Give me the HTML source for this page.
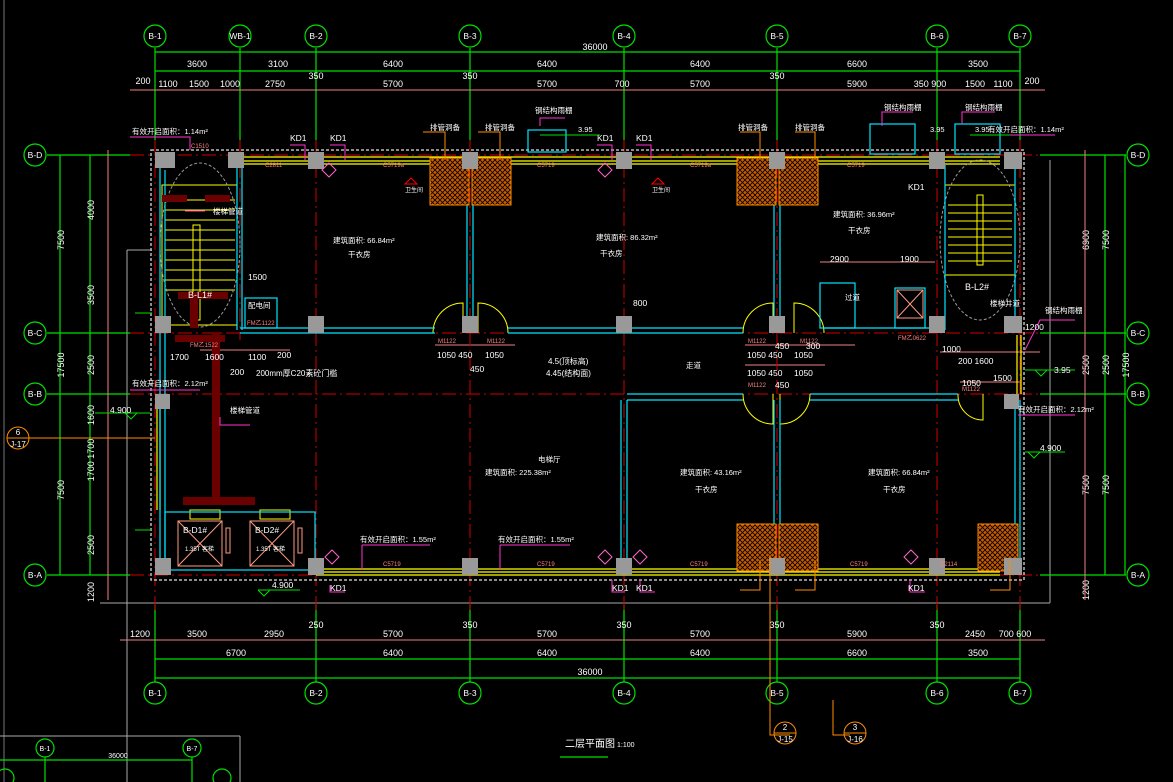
<!DOCTYPE html>
<html><head><meta charset="utf-8"><style>
html,body{margin:0;padding:0;background:#000;width:1173px;height:782px;overflow:hidden}
svg{display:block}
text{font-family:"Liberation Sans","Noto Sans CJK SC",sans-serif}
</style></head><body>
<svg width="1173" height="782" viewBox="0 0 1173 782" xmlns="http://www.w3.org/2000/svg">
<rect width="1173" height="782" fill="#000"/>
<line x1="4" y1="0" x2="4" y2="782" stroke="#777" stroke-width="1"/>
<line x1="127" y1="250" x2="127" y2="782" stroke="#aaa"/>
<line x1="127" y1="250" x2="152" y2="250" stroke="#aaa"/>
<line x1="100" y1="603" x2="1050" y2="603" stroke="#aaa"/>
<line x1="1050" y1="160" x2="1050" y2="603" stroke="#aaa"/>
<line x1="0" y1="736" x2="240" y2="736" stroke="#aaa"/><line x1="240" y1="736" x2="240" y2="782" stroke="#aaa"/>

<g stroke="#00e000" stroke-width="1.2" fill="none">
<line x1="155" y1="48" x2="155" y2="140"/><line x1="240" y1="48" x2="240" y2="140"/><line x1="316" y1="48" x2="316" y2="140"/><line x1="470" y1="48" x2="470" y2="140"/><line x1="624" y1="48" x2="624" y2="140"/><line x1="777" y1="48" x2="777" y2="140"/><line x1="937" y1="48" x2="937" y2="140"/><line x1="1020" y1="48" x2="1020" y2="140"/>
<line x1="155" y1="605" x2="155" y2="682"/><line x1="316" y1="605" x2="316" y2="682"/><line x1="470" y1="605" x2="470" y2="682"/><line x1="624" y1="605" x2="624" y2="682"/><line x1="777" y1="605" x2="777" y2="682"/><line x1="937" y1="605" x2="937" y2="682"/><line x1="1020" y1="605" x2="1020" y2="682"/>
<line x1="155" y1="52" x2="1020" y2="52"/><line x1="155" y1="71" x2="1020" y2="71"/>
<line x1="155" y1="659" x2="1020" y2="659"/><line x1="155" y1="678" x2="1020" y2="678"/>
<line x1="47" y1="155" x2="130" y2="155"/><line x1="47" y1="333" x2="130" y2="333"/><line x1="47" y1="394" x2="130" y2="394"/><line x1="47" y1="575" x2="130" y2="575"/>
<line x1="1040" y1="155" x2="1126" y2="155"/><line x1="1040" y1="333" x2="1126" y2="333"/><line x1="1040" y1="394" x2="1126" y2="394"/><line x1="1040" y1="575" x2="1126" y2="575"/>
<line x1="60" y1="155" x2="60" y2="575"/><line x1="1125" y1="155" x2="1125" y2="575"/>
<line x1="90" y1="155" x2="90" y2="575"/><line x1="1105" y1="155" x2="1105" y2="575"/>
<circle cx="155" cy="36" r="11"/><circle cx="240" cy="36" r="11"/><circle cx="316" cy="36" r="11"/><circle cx="470" cy="36" r="11"/><circle cx="624" cy="36" r="11"/><circle cx="777" cy="36" r="11"/><circle cx="937" cy="36" r="11"/><circle cx="1020" cy="36" r="11"/>
<circle cx="155" cy="693" r="11"/><circle cx="316" cy="693" r="11"/><circle cx="470" cy="693" r="11"/><circle cx="624" cy="693" r="11"/><circle cx="777" cy="693" r="11"/><circle cx="937" cy="693" r="11"/><circle cx="1020" cy="693" r="11"/>
<circle cx="35" cy="155" r="11"/><circle cx="35" cy="333" r="11"/><circle cx="35" cy="394" r="11"/><circle cx="35" cy="575" r="11"/>
<circle cx="1138" cy="155" r="11"/><circle cx="1138" cy="333" r="11"/><circle cx="1138" cy="394" r="11"/><circle cx="1138" cy="575" r="11"/>
<circle cx="45" cy="748" r="9"/><circle cx="192" cy="748" r="9"/><circle cx="222" cy="778" r="9"/><circle cx="5" cy="778" r="9"/>
<line x1="0" y1="760" x2="192" y2="760"/><line x1="192" y1="757" x2="192" y2="782"/><line x1="45" y1="757" x2="45" y2="782"/>
<line x1="560" y1="757" x2="608" y2="757"/>
</g>
<g fill="#fff" font-size="8.5" text-anchor="middle">
<text x="155" y="39">B-1</text><text x="240" y="39">WB-1</text><text x="316" y="39">B-2</text><text x="470" y="39">B-3</text><text x="624" y="39">B-4</text><text x="777" y="39">B-5</text><text x="937" y="39">B-6</text><text x="1020" y="39">B-7</text>
<text x="155" y="696">B-1</text><text x="316" y="696">B-2</text><text x="470" y="696">B-3</text><text x="624" y="696">B-4</text><text x="777" y="696">B-5</text><text x="937" y="696">B-6</text><text x="1020" y="696">B-7</text>
<text x="35" y="158">B-D</text><text x="35" y="336">B-C</text><text x="35" y="397">B-B</text><text x="35" y="578">B-A</text>
<text x="1138" y="158">B-D</text><text x="1138" y="336">B-C</text><text x="1138" y="397">B-B</text><text x="1138" y="578">B-A</text>
<text x="45" y="751" font-size="7">B-1</text><text x="192" y="751" font-size="7">B-7</text><text x="118" y="758" font-size="7">36000</text>
</g>
<g fill="#fff" font-size="9" text-anchor="middle">
<text x="595" y="50">36000</text>
<text x="197" y="67">3600</text><text x="278" y="67">3100</text><text x="393" y="67">6400</text><text x="547" y="67">6400</text><text x="700" y="67">6400</text><text x="857" y="67">6600</text><text x="978" y="67">3500</text>
<text x="143" y="84">200</text><text x="168" y="87">1100</text><text x="199" y="87">1500</text><text x="230" y="87">1000</text><text x="275" y="87">2750</text><text x="316" y="79">350</text><text x="393" y="87">5700</text><text x="470" y="79">350</text><text x="547" y="87">5700</text><text x="622" y="87">700</text><text x="700" y="87">5700</text><text x="777" y="79">350</text><text x="857" y="87">5900</text><text x="930" y="87">350 900</text><text x="975" y="87">1500</text><text x="1003" y="87">1100</text><text x="1032" y="84">200</text>
<text x="140" y="637">1200</text><text x="197" y="637">3500</text><text x="274" y="637">2950</text><text x="316" y="628">250</text><text x="393" y="637">5700</text><text x="470" y="628">350</text><text x="547" y="637">5700</text><text x="624" y="628">350</text><text x="700" y="637">5700</text><text x="777" y="628">350</text><text x="857" y="637">5900</text><text x="937" y="628">350</text><text x="975" y="637">2450</text><text x="1015" y="637">700 600</text>
<text x="236" y="656">6700</text><text x="393" y="656">6400</text><text x="547" y="656">6400</text><text x="700" y="656">6400</text><text x="857" y="656">6600</text><text x="978" y="656">3500</text>
<text x="590" y="675">36000</text>
</g>
<g fill="#fff" font-size="9" text-anchor="middle">
<text transform="translate(64,240) rotate(-90)">7500</text><text transform="translate(64,365) rotate(-90)">17500</text><text transform="translate(64,490) rotate(-90)">7500</text>
<text transform="translate(94,210) rotate(-90)">4000</text><text transform="translate(94,295) rotate(-90)">3500</text><text transform="translate(94,365) rotate(-90)">2500</text><text transform="translate(94,415) rotate(-90)">1600</text><text transform="translate(94,460) rotate(-90)">1700 1700</text><text transform="translate(94,545) rotate(-90)">2500</text><text transform="translate(94,592) rotate(-90)">1200</text>
<text transform="translate(1089,240) rotate(-90)">6900</text><text transform="translate(1089,365) rotate(-90)">2500</text><text transform="translate(1089,485) rotate(-90)">7500</text><text transform="translate(1089,590) rotate(-90)">1200</text>
<text transform="translate(1109,240) rotate(-90)">7500</text><text transform="translate(1109,365) rotate(-90)">2500</text><text transform="translate(1109,485) rotate(-90)">7500</text>
<text transform="translate(1129,365) rotate(-90)">17500</text>
</g>
<g stroke="#f08080" stroke-width="1" fill="none">
<line x1="130" y1="90" x2="1045" y2="90"/><line x1="120" y1="640" x2="1045" y2="640"/>
<line x1="108" y1="150" x2="108" y2="600"/><line x1="1085" y1="150" x2="1085" y2="600"/>
<line x1="820" y1="262" x2="935" y2="262"/><line x1="940" y1="352" x2="1040" y2="352"/><line x1="200" y1="350" x2="290" y2="350"/><line x1="435" y1="345" x2="515" y2="345"/><line x1="745" y1="345" x2="855" y2="345"/>
<line x1="745" y1="365" x2="825" y2="365"/><line x1="960" y1="382" x2="1020" y2="382"/>
</g>
<g stroke="#d00000" stroke-width="1" stroke-dasharray="14 4 2 4" fill="none">
<line x1="155" y1="140" x2="155" y2="610"/><line x1="240" y1="140" x2="240" y2="340"/><line x1="316" y1="140" x2="316" y2="610"/><line x1="470" y1="140" x2="470" y2="610"/><line x1="624" y1="140" x2="624" y2="610"/><line x1="777" y1="140" x2="777" y2="610"/><line x1="937" y1="140" x2="937" y2="610"/><line x1="1020" y1="140" x2="1020" y2="610"/>
<line x1="130" y1="155" x2="1040" y2="155"/><line x1="130" y1="333" x2="1040" y2="333"/><line x1="130" y1="394" x2="1040" y2="394"/><line x1="130" y1="575" x2="1040" y2="575"/>
</g>
<rect x="151" y="150" width="873" height="430" fill="none" stroke="#bbb" stroke-width="1.5" stroke-dasharray="3 2"/>
<g stroke="#ffff00" stroke-width="1.2" fill="none">
<line x1="240" y1="157" x2="1000" y2="157"/><line x1="240" y1="161" x2="1000" y2="161"/><line x1="240" y1="164" x2="1000" y2="164"/>
<line x1="316" y1="569" x2="1000" y2="569"/><line x1="316" y1="572" x2="1000" y2="572"/><line x1="316" y1="575" x2="1000" y2="575"/>
<line x1="157" y1="400" x2="157" y2="510"/><line x1="160" y1="400" x2="160" y2="510"/>
<line x1="1017" y1="335" x2="1017" y2="394"/><line x1="1021" y1="335" x2="1021" y2="394"/>
</g>
<g stroke="#ffff00" stroke-width="1" fill="none">
<rect x="162" y="185" width="75" height="140"/>
<rect x="193" y="225" width="7" height="95"/>
<path d="M165 200 H235 M165 210 H235 M165 220 H235 M165 230 H235 M165 240 H235 M165 250 H235 M165 260 H235 M165 270 H235 M165 280 H235 M165 290 H235"/>
<rect x="945" y="185" width="70" height="90"/>
<rect x="977" y="195" width="6" height="70"/>
<path d="M948 205 H1012 M948 213 H1012 M948 221 H1012 M948 229 H1012 M948 237 H1012 M948 245 H1012 M948 253 H1012 M948 261 H1012"/>
<path d="M433 333 A30 30 0 0 1 463 303 V333"/><path d="M508 333 A30 30 0 0 0 478 303 V333"/>
<path d="M743 333 A30 30 0 0 1 773 303 V333"/><path d="M824 333 A30 30 0 0 0 794 303 V333"/>
<path d="M743 394 A30 30 0 0 0 773 424 V394"/><path d="M810 394 A30 30 0 0 1 780 424 V394"/>
<path d="M958 394 A25 25 0 0 0 983 420 V394"/>
<rect x="190" y="510" width="30" height="9"/><rect x="260" y="510" width="30" height="9"/>
</g>
<ellipse cx="200" cy="245" rx="40" ry="82" fill="none" stroke="#999" stroke-dasharray="3 2"/>
<ellipse cx="980" cy="240" rx="40" ry="80" fill="none" stroke="#999" stroke-dasharray="3 2"/>
<g stroke="#00e5ff" stroke-width="1.2" fill="none">
<path d="M160 165 V570 M165 170 V570"/>
<path d="M237 165 V330 M242 165 V330"/>
<path d="M240 328 H435 M240 333 H435"/>
<path d="M508 328 H743 M508 333 H743"/>
<path d="M824 328 H945 M1010 328 H1020"/>
<path d="M467 165 V328 M473 165 V328"/>
<path d="M774 165 V328 M780 165 V328"/>
<path d="M774 400 V570 M780 400 V570"/>
<path d="M621 400 V570 M627 400 V570"/>
<path d="M627 394 H743 M627 400 H743"/>
<path d="M810 394 H958 M810 400 H958"/>
<path d="M1015 400 V570 M1020 400 V570"/>
<path d="M945 165 V330 M1015 165 V330"/>
<rect x="165" y="512" width="150" height="58"/>
<rect x="245" y="298" width="32" height="30"/>
<rect x="895" y="288" width="30" height="40"/>
<rect x="820" y="283" width="35" height="45"/>
<rect x="870" y="124" width="45" height="30"/><rect x="955" y="124" width="45" height="30"/><rect x="528" y="130" width="38" height="22"/>
</g>
<g stroke="#ff9a80" fill="none" stroke-width="1">
<rect x="178" y="521" width="44" height="45"/><line x1="178" y1="521" x2="222" y2="566"/><line x1="222" y1="521" x2="178" y2="566"/>
<rect x="250" y="521" width="44" height="45"/><line x1="250" y1="521" x2="294" y2="566"/><line x1="294" y1="521" x2="250" y2="566"/>
<rect x="226" y="528" width="4" height="25"/><rect x="298" y="528" width="4" height="25"/>
<rect x="897" y="290" width="26" height="28"/><line x1="897" y1="290" x2="923" y2="318"/><line x1="923" y1="290" x2="897" y2="318"/>
</g>
<g fill="#6a0000">
<rect x="212" y="332" width="8" height="170"/><rect x="183" y="497" width="72" height="8"/>
<rect x="178" y="292" width="50" height="7"/><rect x="190" y="298" width="8" height="30"/>
<rect x="162" y="195" width="25" height="7"/><rect x="205" y="195" width="25" height="7"/>
<rect x="175" y="335" width="50" height="7"/>
</g>
<defs><pattern id="h" width="5" height="5" patternUnits="userSpaceOnUse"><rect width="5" height="5" fill="#c85a00"/><path d="M0 0L5 5M5 0L0 5" stroke="#000" stroke-width="0.8"/></pattern></defs>
<g fill="url(#h)" stroke="#ff8c00">
<rect x="430" y="158" width="39" height="47"/><rect x="472" y="158" width="39" height="47"/>
<rect x="737" y="158" width="39" height="47"/><rect x="779" y="158" width="39" height="47"/>
<rect x="737" y="524" width="39" height="47"/><rect x="779" y="524" width="39" height="47"/>
<rect x="978" y="524" width="40" height="47"/>
</g>
<g fill="#999">
<rect x="155" y="152" width="20" height="16"/><rect x="228" y="152" width="16" height="16"/><rect x="308" y="152" width="16" height="17"/><rect x="462" y="152" width="16" height="17"/><rect x="616" y="152" width="16" height="17"/><rect x="769" y="152" width="16" height="17"/><rect x="929" y="152" width="16" height="17"/><rect x="1004" y="152" width="18" height="17"/>
<rect x="155" y="316" width="16" height="17"/><rect x="308" y="316" width="16" height="17"/><rect x="462" y="316" width="16" height="17"/><rect x="616" y="316" width="16" height="17"/><rect x="769" y="316" width="16" height="17"/><rect x="929" y="316" width="16" height="17"/><rect x="1004" y="316" width="18" height="17"/>
<rect x="155" y="394" width="15" height="15"/><rect x="1004" y="394" width="15" height="15"/>
<rect x="155" y="558" width="16" height="17"/><rect x="308" y="558" width="16" height="17"/><rect x="462" y="558" width="16" height="17"/><rect x="616" y="558" width="16" height="17"/><rect x="769" y="558" width="16" height="17"/><rect x="929" y="558" width="16" height="17"/><rect x="1004" y="558" width="18" height="17"/>
</g>
<g stroke="#ff33cc" stroke-width="1" fill="none">
<path d="M130 137 H190 V150"/><path d="M290 145 H305 V160"/><path d="M330 145 H345 V160"/><path d="M597 145 H612 V160"/><path d="M636 145 H651 V160"/>
<path d="M185 211 H205"/><path d="M362 545 H430 M362 545 V570"/><path d="M500 545 H570 M500 545 V570"/>
<path d="M330 585 V592 H345"/><path d="M612 580 V592 H625"/><path d="M640 580 V592 H655"/><path d="M910 580 V592 H925"/>
<path d="M1018 415 H1075"/><path d="M130 390 H200"/><path d="M220 417 V425 H250"/><path d="M1025 350 L1040 320 H1075"/>
<path d="M540 126 V118 H565"/><path d="M882 126 V112 H913"/><path d="M962 124 V112 H995"/><path d="M990 135 H1055"/>
</g>
<g stroke="#ff66cc" fill="none">
<path d="M322 170 l7 -7 7 7 -7 7z"/><path d="M598 170 l7 -7 7 7 -7 7z"/><path d="M325 557 l7 -7 7 7 -7 7z"/><path d="M598 557 l7 -7 7 7 -7 7z"/><path d="M904 557 l7 -7 7 7 -7 7z"/><path d="M633 557 l7 -7 7 7 -7 7z"/>
</g>
<g stroke="#ff8c00" fill="none">
<path d="M423 132 H445 V160"/><path d="M478 132 H500 V160"/><path d="M740 132 H760 V160"/><path d="M795 132 H815 V160"/>
<path d="M770 555 V735 H790"/><path d="M833 700 V735 H850"/><path d="M740 590 H760 V560"/><path d="M795 590 H815 V560"/><path d="M990 590 H1010 V560"/>
</g>
<g stroke="#ff8c00" fill="none"><circle cx="785" cy="733" r="11"/><circle cx="855" cy="733" r="11"/><circle cx="18" cy="438" r="11"/><line x1="774" y1="733" x2="796" y2="733"/><line x1="844" y1="733" x2="866" y2="733"/><line x1="7" y1="438" x2="29" y2="438"/><line x1="29" y1="438" x2="155" y2="438"/></g>
<g stroke="#00e000" fill="none">
<path d="M95 413 H150 M125 413 l6 6 6 -6"/><path d="M258 590 H300 M258 590 l6 6 6 -6"/><path d="M1025 452 H1065 M1028 452 l6 6 6 -6"/><path d="M1025 370 H1075 M1035 370 l6 6 6 -6"/>
<path d="M540 135 H600"/><path d="M970 135 H1010"/>
<path d="M135 313 H152"/><path d="M135 530 H152"/>
</g>
<g fill="#fff" font-size="7.5">
<text x="132" y="134">有效开启面积：1.14m²</text><text x="988" y="132">有效开启面积：1.14m²</text>
<text x="290" y="141" font-size="8.5">KD1</text><text x="330" y="141" font-size="8.5">KD1</text><text x="597" y="141" font-size="8.5">KD1</text><text x="636" y="141" font-size="8.5">KD1</text><text x="908" y="190" font-size="8.5">KD1</text>
<text x="330" y="591" font-size="8.5">KD1</text><text x="612" y="591" font-size="8.5">KD1</text><text x="636" y="591" font-size="8.5">KD1</text><text x="908" y="591" font-size="8.5">KD1</text>
<text x="430" y="130">排管洞备</text><text x="485" y="130">排管洞备</text><text x="535" y="113">钢结构雨棚</text><text x="738" y="130">排管洞备</text><text x="795" y="130">排管洞备</text><text x="884" y="110">钢结构雨棚</text><text x="965" y="110">钢结构雨棚</text>
<text x="578" y="132">3.95</text><text x="930" y="132">3.95</text><text x="975" y="132">3.95</text>
<text x="333" y="243">建筑面积: 66.84m²</text><text x="348" y="257">干衣房</text>
<text x="596" y="240">建筑面积: 86.32m²</text><text x="600" y="256">干衣房</text>
<text x="833" y="217">建筑面积: 36.96m²</text><text x="848" y="233">干衣房</text>
<text x="538" y="462">电梯厅</text><text x="485" y="475">建筑面积: 225.38m²</text>
<text x="680" y="475">建筑面积: 43.16m²</text><text x="695" y="492">干衣房</text>
<text x="868" y="475">建筑面积: 66.84m²</text><text x="883" y="492">干衣房</text>
<text x="686" y="368">走道</text>
<text x="548" y="364" font-size="8">4.5(顶标高)</text><text x="546" y="376" font-size="8">4.45(结构面)</text>
<text x="132" y="386">有效开启面积：2.12m²</text><text x="1018" y="412">有效开启面积：2.12m²</text>
<text x="360" y="542">有效开启面积：1.55m²</text><text x="498" y="542">有效开启面积：1.55m²</text>
<text x="230" y="413">楼梯管道</text><text x="248" y="308">配电间</text><text x="845" y="300">过道</text>
<text x="188" y="298" font-size="9">B-L1#</text><text x="965" y="290" font-size="9">B-L2#</text>
<text x="183" y="533" font-size="8.5">B-D1#</text><text x="255" y="533" font-size="8.5">B-D2#</text>
<text x="185" y="551" font-size="6">1.35T 客梯</text><text x="256" y="551" font-size="6">1.35T 客梯</text>
<text x="256" y="376" font-size="8">200mm厚C20素砼门槛</text>
<text x="248" y="280" font-size="8.5">1500</text><text x="170" y="360" font-size="8.5">1700</text><text x="205" y="360" font-size="8.5">1600</text><text x="248" y="360" font-size="8.5">1100</text><text x="277" y="358" font-size="8.5">200</text><text x="230" y="375" font-size="8.5">200</text>
<text x="437" y="358" font-size="8.5">1050 450</text><text x="485" y="358" font-size="8.5">1050</text><text x="470" y="372" font-size="8.5">450</text>
<text x="747" y="358" font-size="8.5">1050 450</text><text x="794" y="358" font-size="8.5">1050</text><text x="747" y="376" font-size="8.5">1050 450</text><text x="794" y="376" font-size="8.5">1050</text><text x="775" y="349" font-size="8.5">450</text><text x="775" y="388" font-size="8.5">450</text><text x="806" y="349" font-size="8.5">300</text>
<text x="830" y="262" font-size="8.5">2900</text><text x="900" y="262" font-size="8.5">1900</text><text x="633" y="306" font-size="8.5">800</text>
<text x="942" y="352" font-size="8.5">1000</text><text x="958" y="364" font-size="8.5">200 1600</text><text x="962" y="386" font-size="8.5">1050</text><text x="993" y="381" font-size="8.5">1500</text><text x="1025" y="330" font-size="8.5">1200</text>
<text x="1054" y="373" font-size="8.5">3.95</text>
<text x="110" y="413" font-size="8.5">4.900</text><text x="272" y="588" font-size="8.5">4.900</text><text x="1040" y="451" font-size="8.5">4.900</text>
<text x="1045" y="313">钢结构雨棚</text>
<text x="990" y="306">楼梯井道</text><text x="213" y="214">楼梯管道</text>
</g>
<g fill="#ff8080" font-size="6">
<text x="191" y="148">C1510</text><text x="265" y="167">C2811</text><text x="383" y="167">C5719a</text><text x="537" y="167">C5719</text><text x="690" y="167">C5719a</text><text x="847" y="167">C5719</text>
<text x="383" y="566">C5719</text><text x="537" y="566">C5719</text><text x="690" y="566">C5719</text><text x="850" y="566">C5719</text><text x="940" y="566">C2114</text>
<text x="190" y="347">FM乙1522</text><text x="247" y="325">FM乙1122</text><text x="898" y="340">FM乙0622</text>
<text x="438" y="343">M1122</text><text x="487" y="343">M1122</text><text x="748" y="343">M1122</text><text x="800" y="343">M1122</text><text x="748" y="387">M1122</text><text x="962" y="391">M1122</text>
</g>
<g fill="#fff" font-size="8" text-anchor="middle">
<text x="785" y="730">2</text><text x="785" y="742">J-15</text><text x="855" y="730">3</text><text x="855" y="742">J-16</text><text x="18" y="435">6</text><text x="18" y="447">J-17</text>
</g>
<text x="565" y="747" fill="#fff" font-size="10">二层平面图</text><text x="617" y="747" fill="#fff" font-size="7">1:100</text>
<g stroke="#ff0000" fill="none"><path d="M405 184 l6 -6 6 6z"/><path d="M652 184 l6 -6 6 6z"/></g>
<g fill="#fff" font-size="6"><text x="405" y="192">卫生间</text><text x="652" y="192">卫生间</text></g>
</svg>
</body></html>
